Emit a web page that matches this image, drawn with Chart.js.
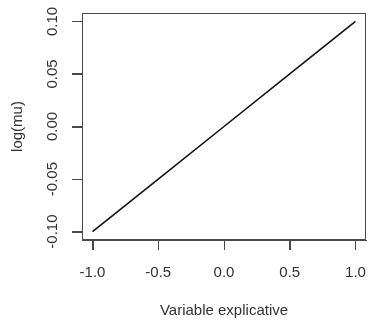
<!DOCTYPE html>
<html>
<head>
<meta charset="utf-8">
<script src="https://cdn.jsdelivr.net/npm/chart.js@4.4.0/dist/chart.umd.min.js"></script>
<style>
  html, body { margin: 0; padding: 0; background: #fff; }
  #wrap { width: 369px; height: 321px; }
</style>
</head>
<body>
<div id="wrap"><canvas id="myChart" width="369" height="321"></canvas></div>
<script>
// values
const xValues = [-1.0, -0.5, 0.0, 0.5, 1.0];
const yValues = [-0.10, -0.05, 0.00, 0.05, 0.10];
const xTicks = [-1.0, -0.5, 0.0, 0.5, 1.0];
const yTicks = [-0.10, -0.05, 0.00, 0.05, 0.10];
const xTitle = 'Variable explicative';
const yTitle = 'log(mu)';

const axisColor = '#4a4a4a';
const textColor = '#333';
const font = { family: 'Liberation Sans, Arial, sans-serif', size: 15 };
const tickLen = 10;

// box around the plot area plus the outward tick marks
const boxPlugin = {
  id: 'box',
  afterDraw(chart) {
    const { ctx, chartArea: a, scales } = chart;
    ctx.save();
    ctx.strokeStyle = axisColor;
    ctx.lineWidth = 1;
    ctx.strokeRect(a.left + 0.5, a.top + 0.5, a.right - a.left - 1, a.bottom - a.top - 1);
    ctx.beginPath();
    scales.x.ticks.forEach((t) => {
      const px = Math.round(scales.x.getPixelForValue(t.value)) + 0.5;
      ctx.moveTo(px, a.bottom);
      ctx.lineTo(px, a.bottom + tickLen);
    });
    scales.y.ticks.forEach((t) => {
      const py = Math.round(scales.y.getPixelForValue(t.value)) + 0.5;
      ctx.moveTo(a.left, py);
      ctx.lineTo(a.left - tickLen, py);
    });
    ctx.stroke();
    ctx.restore();
  },
};

const ctx = document.getElementById('myChart').getContext('2d');
new Chart(ctx, {
  type: 'line',
  data: {
    datasets: [{
      data: xValues.map((x, i) => ({ x, y: yValues[i] })),
      borderColor: '#111',
      borderWidth: 1.6,
      pointRadius: 0,
      fill: false,
      tension: 0,
    }],
  },
  options: {
    responsive: false,
    animation: false,
    layout: { padding: { left: 0, top: 13, right: 3, bottom: 0 } },
    plugins: { legend: { display: false }, tooltip: { enabled: false } },
    scales: {
      x: {
        type: 'linear',
        min: -1.08,
        max: 1.08,
        afterBuildTicks: (scale) => { scale.ticks = xTicks.map((v) => ({ value: v })); },
        afterFit: (scale) => {
          scale.height = 81;
          scale.paddingLeft = 0;
          scale.paddingRight = 0;
        },
        grid: { display: true, drawOnChartArea: false, drawTicks: true, tickLength: tickLen, color: axisColor },
        border: { display: true, color: axisColor },
        ticks: {
          color: textColor,
          font,
          padding: 14,
          maxRotation: 0,
          autoSkip: false,
          callback: (v) => v.toFixed(1),
        },
        title: { display: true, text: xTitle, color: textColor, font, padding: { top: 0, bottom: 1 } },
      },
      y: {
        type: 'linear',
        min: -0.108,
        max: 0.108,
        afterBuildTicks: (scale) => { scale.ticks = yTicks.map((v) => ({ value: v })); },
        afterFit: (scale) => {
          scale.width = 82;
          scale.paddingTop = 0;
          scale.paddingBottom = 0;
        },
        grid: { display: true, drawOnChartArea: false, drawTicks: true, tickLength: tickLen, color: axisColor },
        border: { display: true, color: axisColor },
        ticks: {
          color: textColor,
          font,
          padding: 2,
          minRotation: 90,
          maxRotation: 90,
          crossAlign: 'center',
          autoSkip: false,
          callback: (v) => v.toFixed(2),
        },
        title: { display: true, text: yTitle, color: textColor, font, padding: { top: 9, bottom: 0 } },
      },
    },
  },
  plugins: [boxPlugin],
});
</script>
</body>
</html>
